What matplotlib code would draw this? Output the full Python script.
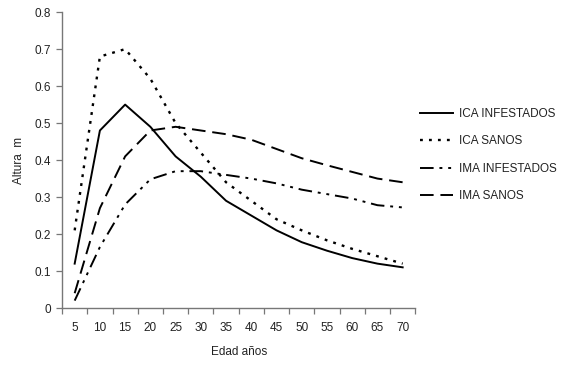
import matplotlib
matplotlib.use("Agg")
import matplotlib.pyplot as plt
import numpy as np

plt.rcParams['font.family'] = ['Liberation Sans', 'DejaVu Sans']

edad = [5, 10, 15, 20, 25, 30, 35, 40, 45, 50, 55, 60, 65, 70]
ica_infestados = [0.12, 0.48, 0.55, 0.49, 0.41, 0.355, 0.29, 0.25, 0.21, 0.178, 0.155, 0.135, 0.12, 0.11]
ica_sanos = [0.21, 0.68, 0.70, 0.62, 0.50, 0.42, 0.34, 0.29, 0.24, 0.21, 0.183, 0.16, 0.14, 0.12]
ima_infestados = [0.02, 0.165, 0.28, 0.348, 0.37, 0.37, 0.36, 0.35, 0.337, 0.32, 0.308, 0.296, 0.278, 0.272]
ima_sanos = [0.04, 0.27, 0.41, 0.48, 0.49, 0.48, 0.47, 0.455, 0.43, 0.405, 0.386, 0.368, 0.35, 0.34]
yticks = [0, 0.1, 0.2, 0.3, 0.4, 0.5, 0.6, 0.7, 0.8]

fs = 8.5
fig = plt.figure(figsize=(5.8, 3.68), dpi=100)
ax = fig.add_axes([0.107, 0.163, 0.609, 0.804])

x = np.arange(len(edad))
lw = 1.4
ax.plot(x, ica_infestados, color='black', lw=lw, linestyle='-', label='ICA INFESTADOS')
ax.plot(x, ica_sanos, color='black', lw=1.7, linestyle=(0, (1.2, 2.6)), label='ICA SANOS')
ax.plot(x, ima_infestados, color='black', lw=lw, linestyle=(0, (7, 3, 1.5, 3, 1.5, 3)), label='IMA INFESTADOS')
ax.plot(x, ima_sanos, color='black', lw=lw, linestyle=(0, (7, 3.5)), label='IMA SANOS')

ax.set_xlim(-0.5, len(edad) - 0.5)
ax.set_ylim(0, 0.8)
ax.set_xticks(x)
ax.set_xticklabels([str(e) for e in edad])
ax.set_xticks(np.arange(-0.5, len(edad), 1.0), minor=True)
ax.tick_params(axis='x', which='major', length=0, pad=10, labelsize=fs, labelcolor='#222222')
ax.tick_params(axis='x', which='minor', length=4, width=0.9, color='#777777', direction='out')
ax.set_yticks(yticks)
ax.set_yticklabels(['0'] + [f'{v:.1f}' for v in yticks[1:]])
ax.tick_params(axis='y', length=4, width=0.9, color='#777777', direction='out', labelsize=fs, labelcolor='#222222', pad=4)

for s in ['top', 'right']:
    ax.spines[s].set_visible(False)
for s in ['left', 'bottom']:
    ax.spines[s].set_color('#777777')
    ax.spines[s].set_linewidth(1.0)

ax.set_xlabel('Edad años', fontsize=fs, color='#222222', labelpad=9)
ax.set_ylabel('Altura  m', fontsize=fs, color='#222222', labelpad=7)

leg = ax.legend(loc='center left', bbox_to_anchor=(1.0, 0.517), frameon=False,
                fontsize=fs, handlelength=2.8, handletextpad=0.5, labelspacing=1.3,
                borderaxespad=0.0)
for t in leg.get_texts():
    t.set_color('#222222')

fig.savefig('out.png', dpi=100)
